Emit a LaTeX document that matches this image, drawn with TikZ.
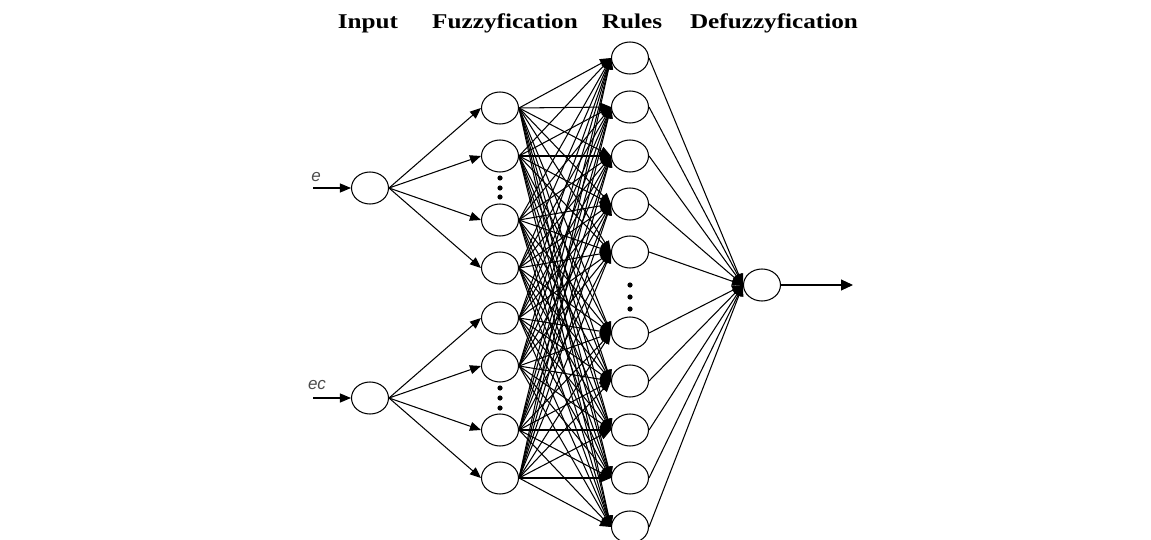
\documentclass[tikz,border=0pt]{standalone}
\usepackage{fontspec}
\setmainfont{Liberation Serif}
\newfontfamily\labelfont{Liberation Sans}
\usetikzlibrary{shapes.geometric,arrows.meta}

\begin{document}
\begin{tikzpicture}[x=1pt,y=-1pt,line width=1.05pt,
    >={Triangle[length=11pt,width=9pt]}]

        \useasboundingbox (0,0) rectangle (1151,540);

        % layer titles
        \begin{scope}[every node/.style={anchor=base,xscale=1.2,
            font=\fontsize{21}{24}\selectfont\bfseries}]
          \node (tin)  at (368,29) {Input};
          \node (tfz)  at (505,29) {Fuzzyfication};
          \node (tru)  at (632,29) {Rules};
          \node (tdf)  at (774,29) {Defuzzyfication};
        \end{scope}

        \begin{scope}[every node/.style={ellipse,draw,fill=white,
            minimum width=37pt,minimum height=32pt,inner sep=0pt}]
          \node (e)   at (370,188) {};
          \node (ec)  at (370,398) {};
          \node (f1)  at (500,108) {};
          \node (f2)  at (500,156) {};
          \node (f3)  at (500,220) {};
          \node (f4)  at (500,268) {};
          \node (f5)  at (500,318) {};
          \node (f6)  at (500,366) {};
          \node (f7)  at (500,430) {};
          \node (f8)  at (500,478) {};
          \node (r1)  at (630,58)  {};
          \node (r2)  at (630,107) {};
          \node (r3)  at (630,156) {};
          \node (r4)  at (630,204) {};
          \node (r5)  at (630,252) {};
          \node (r6)  at (630,333) {};
          \node (r7)  at (630,381) {};
          \node (r8)  at (630,430) {};
          \node (r9)  at (630,478) {};
          \node (r10) at (630,527) {};
          \node (out) at (762,285) {};
        \end{scope}

        \begin{scope}[every node/.style={font=\labelfont\itshape\fontsize{17}{17}\selectfont,text=black!70}]
          \node (le)  at (316,177) {e};
          \node (lec) at (317,385) {ec};
        \end{scope}

        \coordinate (ein)  at (313,188);
        \coordinate (ecin) at (313,398);
        \coordinate (yout) at (853,285);

        % dots
        \foreach \y in {178,188,197,388,398,408}
          \fill (500,\y) circle (2.6pt);
        \foreach \y in {285,297,309}
          \fill (630,\y) circle (2.6pt);

        \draw[->] (ein) -- (e.west);
        \draw[->] (ecin) -- (ec.west);
        \foreach \i in {1,...,4}
          \draw[->] (e.east) -- (f\i.west);
        \foreach \i in {5,...,8}
          \draw[->] (ec.east) -- (f\i.west);
        \foreach \i in {1,...,8}
          \foreach \j in {1,...,10}
            \draw[->] (f\i.east) -- (r\j.west);
        \foreach \j in {1,...,10}
          \draw[->] (r\j.east) -- (out.west);
        \draw[-{Triangle[length=12pt,width=11pt]}] (out.east) -- (yout);

      \end{tikzpicture}
\end{document}
